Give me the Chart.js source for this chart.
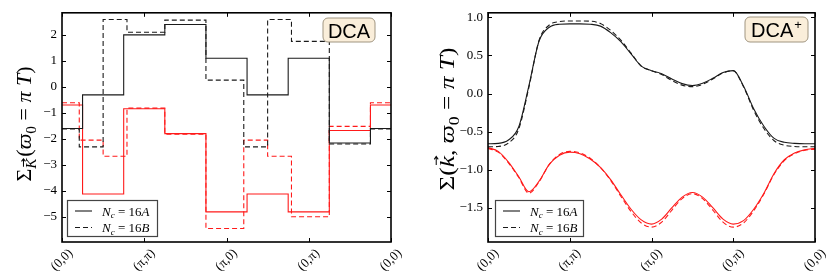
<!DOCTYPE html>
<html><head><meta charset="utf-8">
<script src="https://cdn.jsdelivr.net/npm/chart.js@4"></script>
<style>
html,body{margin:0;padding:0;background:#fff;}
#wrap{position:relative;width:830px;height:277px;}
canvas{position:absolute;top:0;}
#c1{left:0}
#c2{left:415px}
</style></head><body>
<div id="wrap"><canvas id="c1" width="415" height="277"></canvas><canvas id="c2" width="415" height="277"></canvas></div>
<script>
// ---- tick labels / legend ----
const kLabels = ['(0,0)', '(π,π)', '(π,0)', '(0,π)', '(0,0)'];
const seriesNames = ['16A', '16B'];

// ---- DCA (left): piecewise-constant self-energy ----
const edgesA = [0, 0.25, 0.75, 1.25, 1.75, 2.25, 2.75, 3.25, 3.75, 4];
const dcaBlackA = [-1.6, -0.31, 2.0, 2.4, 1.1, -0.31, 1.1, -2.16, -1.6];
const dcaRedA = [-0.7, -4.12, -0.84, -1.8, -4.81, -4.12, -4.81, -1.68, -0.7];
const edgesB = [0, 0.21, 0.5, 0.79, 1.25, 1.75, 2.21, 2.5, 2.79, 3.25, 3.75, 4];
const dcaBlackB = [-1.62, -2.31, 2.59, 2.1, 2.57, 0.26, -2.31, 2.59, 1.75, -2.2, -1.62];
const dcaRedB = [-0.61, -2.05, -2.67, -0.82, -1.82, -5.45, -2.05, -2.67, -5.0, -1.52, -0.61];

// ---- DCA+ (right): smooth self-energy ----
const kGrid = [0, 0.125, 0.25, 0.375, 0.5, 0.625, 0.75, 0.875, 1, 1.125, 1.25, 1.375, 1.5, 1.625, 1.75, 1.875, 2,
  2.125, 2.25, 2.375, 2.5, 2.625, 2.75, 2.875, 3, 3.125, 3.25, 3.375, 3.5, 3.625, 3.75, 3.875, 4];
const plusBlackA = [-0.66, -0.655, -0.61, -0.44, 0.10, 0.69, 0.87, 0.91, 0.915, 0.915, 0.91, 0.885, 0.80, 0.68, 0.52, 0.36, 0.30,
  0.26, 0.19, 0.13, 0.105, 0.135, 0.20, 0.275, 0.30, 0.10, -0.20, -0.43, -0.59, -0.64, -0.655, -0.66, -0.66];
const plusBlackB = [-0.70, -0.695, -0.65, -0.47, 0.08, 0.70, 0.90, 0.945, 0.953, 0.953, 0.95, 0.92, 0.83, 0.70, 0.53, 0.36, 0.30,
  0.25, 0.17, 0.11, 0.09, 0.12, 0.19, 0.27, 0.30, 0.09, -0.22, -0.46, -0.62, -0.68, -0.695, -0.70, -0.70];
const plusRedA = [-0.71, -0.76, -0.90, -1.09, -1.29, -1.15, -0.93, -0.81, -0.77, -0.79, -0.86, -0.97, -1.13, -1.33, -1.52, -1.66, -1.715,
  -1.65, -1.50, -1.36, -1.30, -1.36, -1.50, -1.65, -1.715, -1.67, -1.52, -1.31, -1.05, -0.87, -0.78, -0.74, -0.72];
const plusRedB = [-0.72, -0.77, -0.91, -1.10, -1.31, -1.16, -0.93, -0.80, -0.76, -0.78, -0.85, -0.97, -1.14, -1.35, -1.55, -1.70, -1.755,
  -1.69, -1.53, -1.38, -1.315, -1.38, -1.53, -1.69, -1.755, -1.70, -1.54, -1.32, -1.06, -0.88, -0.79, -0.745, -0.73];

const SERIF = '"Liberation Serif","DejaVu Serif",serif';
const SANS = '"Liberation Sans",Arial,sans-serif';
const BLACK = '#1a1a1a';
const RED = '#ff1a1a';
const DASH = [5, 3];

function stepPts(edges, vals) {
  const p = vals.map((v, i) => ({x: edges[i], y: v}));
  p.push({x: edges[edges.length - 1], y: vals[vals.length - 1]});
  return p;
}
function gridPts(xs, vals) { return vals.map((v, i) => ({x: xs[i], y: v})); }
function minusFmt(s) { return s.replace('-', '\u2212'); }

function drawSegments(ctx, segs, size, cx, cy, target) {
  function fontFor(sg) { return (sg.it ? 'italic ' : '') + (size * (sg.s || 1)) + 'px ' + SERIF; }
  let W = 0;
  for (const sg of segs) { ctx.font = fontFor(sg); W += ctx.measureText(sg.t).width + (sg.gap || 0) * size; }
  const k = target / W;
  ctx.save();
  ctx.translate(cx, cy);
  ctx.rotate(-Math.PI / 2);
  ctx.scale(k, 1);
  ctx.fillStyle = '#000';
  ctx.textBaseline = 'alphabetic';
  let x = -W / 2;
  const baseY = size * 0.33;
  for (const sg of segs) {
    ctx.font = fontFor(sg);
    const w = ctx.measureText(sg.t).width;
    const y = baseY + (sg.dy || 0) * size;
    ctx.fillText(sg.t, x, y);
    if (sg.arrow) {
      const ay = y - size * (sg.s || 1) * 0.82;
      const ax0 = x + w * 0.2, ax1 = x + w * 0.95;
      ctx.strokeStyle = '#000'; ctx.lineWidth = 1;
      ctx.beginPath(); ctx.moveTo(ax0, ay); ctx.lineTo(ax1, ay);
      ctx.moveTo(ax1 - 2.5, ay - 2); ctx.lineTo(ax1, ay); ctx.lineTo(ax1 - 2.5, ay + 2); ctx.stroke();
    }
    x += w + (sg.gap || 0) * size;
  }
  ctx.restore();
}

function decoPlugin(d) {
  return {
    id: 'deco',
    afterDatasetsDraw(chart) {
      const ctx = chart.ctx;
      // label box (DCA / DCA+)
      ctx.save();
      const b = d.box;
      ctx.beginPath();
      ctx.roundRect(b.x, b.y, b.w, b.h, 5);
      ctx.fillStyle = 'rgb(250,238,218)';
      ctx.fill();
      ctx.strokeStyle = '#a09580';
      ctx.lineWidth = 1;
      ctx.stroke();
      ctx.fillStyle = '#000';
      ctx.font = '20px ' + SANS;
      ctx.textBaseline = 'alphabetic';
      const tw = ctx.measureText('DCA').width;
      ctx.font = '13px ' + SANS;
      const sw = b.sup ? ctx.measureText(b.sup).width + 1 : 0;
      const tx = b.x + (b.w - tw - sw) / 2;
      ctx.font = '20px ' + SANS;
      ctx.fillText('DCA', tx, b.y + b.h / 2 + 7.5);
      if (b.sup) { ctx.font = '13px ' + SANS; ctx.fillText(b.sup, tx + tw + 1, b.y + b.h / 2 - 0.5); }
      ctx.restore();

      // legend
      const L = d.legend;
      ctx.save();
      ctx.fillStyle = '#fff';
      ctx.fillRect(L.x, L.y, L.w, L.h);
      ctx.strokeStyle = '#444';
      ctx.lineWidth = 1.2;
      ctx.strokeRect(L.x + 0.5, L.y + 0.5, L.w, L.h);
      const rows = [L.y + 11, L.y + 27.5];
      seriesNames.forEach((nm, i) => {
        const y = rows[i];
        ctx.strokeStyle = BLACK; ctx.lineWidth = 1.1;
        ctx.setLineDash(i === 0 ? [] : DASH);
        ctx.beginPath(); ctx.moveTo(L.x + 8, y); ctx.lineTo(L.x + 25, y); ctx.stroke();
        ctx.setLineDash([]);
        ctx.fillStyle = '#000';
        let x = L.x + 35;
        const by = y + 4.5;
        ctx.font = 'italic 13px ' + SERIF; ctx.fillText('N', x, by); x += ctx.measureText('N').width;
        ctx.font = 'italic 9px ' + SERIF; ctx.fillText('c', x, by + 2.5); x += ctx.measureText('c').width;
        ctx.font = '13px ' + SERIF; const eq = ' = 16'; ctx.fillText(eq, x, by); x += ctx.measureText(eq).width;
        ctx.font = 'italic 13px ' + SERIF; ctx.fillText(nm.slice(2), x, by);
      });
      ctx.restore();
    },
    afterDraw(chart) {
      const ctx = chart.ctx;
      const a = chart.chartArea;
      const xs = chart.scales.x, ys = chart.scales.y;
      ctx.save();
      ctx.strokeStyle = '#000';
      ctx.lineWidth = 1;
      ctx.beginPath();
      for (const t of ys.ticks) {
        const y = Math.round(ys.getPixelForValue(t.value)) + 0.5;
        ctx.moveTo(a.left, y); ctx.lineTo(a.left + 4, y);
        ctx.moveTo(a.right, y); ctx.lineTo(a.right - 4, y);
      }
      for (const t of xs.ticks) {
        const x = Math.round(xs.getPixelForValue(t.value)) + 0.5;
        ctx.moveTo(x, a.bottom); ctx.lineTo(x, a.bottom - 4);
        ctx.moveTo(x, a.top); ctx.lineTo(x, a.top + 4);
      }
      ctx.stroke();
      ctx.lineWidth = 1.6;
      ctx.strokeRect(a.left, a.top, a.right - a.left, a.bottom - a.top);
      // rotated x tick labels (45 deg, centred on tick like matplotlib)
      ctx.fillStyle = '#000';
      ctx.font = '13px ' + SERIF;
      ctx.textAlign = 'center';
      ctx.textBaseline = 'middle';
      for (const t of xs.ticks) {
        const i = Math.round(t.value);
        if (Math.abs(t.value - i) > 1e-6 || kLabels[i] === undefined) continue;
        const x = xs.getPixelForValue(t.value);
        const w = ctx.measureText(kLabels[i]).width;
        const half = (w + 12) * Math.SQRT1_2 / 2;
        ctx.save();
        ctx.translate(x, a.bottom + 5 + half);
        ctx.rotate(-Math.PI / 4);
        ctx.fillText(kLabels[i], 0, 0);
        ctx.restore();
      }
      ctx.restore();
      drawSegments(ctx, d.title, 22, d.titleX, d.titleY, d.titleLen);
    }
  };
}

function makeChart(id, datasets, yo, d) {
  return new Chart(document.getElementById(id), {
    type: 'line',
    data: {datasets},
    options: {
      responsive: false, animation: false, devicePixelRatio: 1,
      layout: {padding: {top: d.padTop, right: d.padRight, left: 0, bottom: 0}},
      plugins: {legend: {display: false}, tooltip: {enabled: false}},
      elements: {point: {radius: 0}},
      scales: {
        x: {type: 'linear', min: 0, max: 4,
          grid: {display: false, drawTicks: false}, border: {display: false},
          afterFit: (s) => { s.height = d.xH; },
          ticks: {stepSize: 1, autoSkip: false, display: false}},
        y: {type: 'linear', min: yo.min, max: yo.max,
          grid: {display: false, drawTicks: false}, border: {display: false},
          afterFit: (s) => { s.width = d.yW; },
          ticks: {stepSize: yo.step, includeBounds: false, padding: 5, color: '#000', font: {family: SERIF, size: 13},
            callback: yo.fmt}}
      }
    },
    plugins: [decoPlugin(d)]
  });
}

function ds(pts, color, dashed, stepped, smooth) {
  return {data: pts, borderColor: color, borderWidth: 1.1, borderDash: dashed ? DASH : [],
    stepped: stepped ? 'before' : false, cubicInterpolationMode: smooth ? 'monotone' : 'default', tension: 0,
    fill: false, pointRadius: 0};
}

makeChart('c1', [
  ds(stepPts(edgesA, dcaBlackA), BLACK, false, true),
  ds(stepPts(edgesB, dcaBlackB), BLACK, true, true),
  ds(stepPts(edgesA, dcaRedA), RED, false, true),
  ds(stepPts(edgesB, dcaRedB), RED, true, true)
], {min: -5.97, max: 2.85, step: 1, fmt: (v) => minusFmt(String(Math.round(v)))},
{padTop: 6, padRight: 24, yW: 62, xH: 35,
  box: {x: 323, y: 18, w: 52, h: 24, sup: ''},
  legend: {x: 67, y: 200, w: 90, h: 36},
  title: [{t: 'Σ'}, {t: 'K', it: true, s: 0.7, dy: 0.22, arrow: true, gap: 0.08}, {t: '('}, {t: 'ϖ', it: true}, {t: '0', s: 0.7, dy: 0.2},
    {t: ' = '}, {t: 'π', it: true}, {t: ' '}, {t: 'T', it: true}, {t: ')'}],
  titleX: 24, titleY: 124, titleLen: 115});

makeChart('c2', [
  ds(gridPts(kGrid, plusBlackA), BLACK, false, false, true),
  ds(gridPts(kGrid, plusBlackB), BLACK, true, false, true),
  ds(gridPts(kGrid, plusRedA), RED, false, false, true),
  ds(gridPts(kGrid, plusRedB), RED, true, false, true)
], {min: -1.95, max: 1.06, step: 0.5, fmt: (v) => minusFmt((Math.round(v * 10) / 10).toFixed(1))},
{padTop: 6, padRight: 15, yW: 73, xH: 35,
  box: {x: 330, y: 17, w: 63, h: 25, sup: '+'},
  legend: {x: 80, y: 200, w: 88, h: 36},
  title: [{t: 'Σ('}, {t: 'k', it: true, arrow: true}, {t: ', '}, {t: 'ϖ', it: true}, {t: '0', s: 0.7, dy: 0.2},
    {t: ' = '}, {t: 'π', it: true}, {t: ' '}, {t: 'T', it: true}, {t: ')'}],
  titleX: 32, titleY: 119, titleLen: 143});
</script>
</body></html>
